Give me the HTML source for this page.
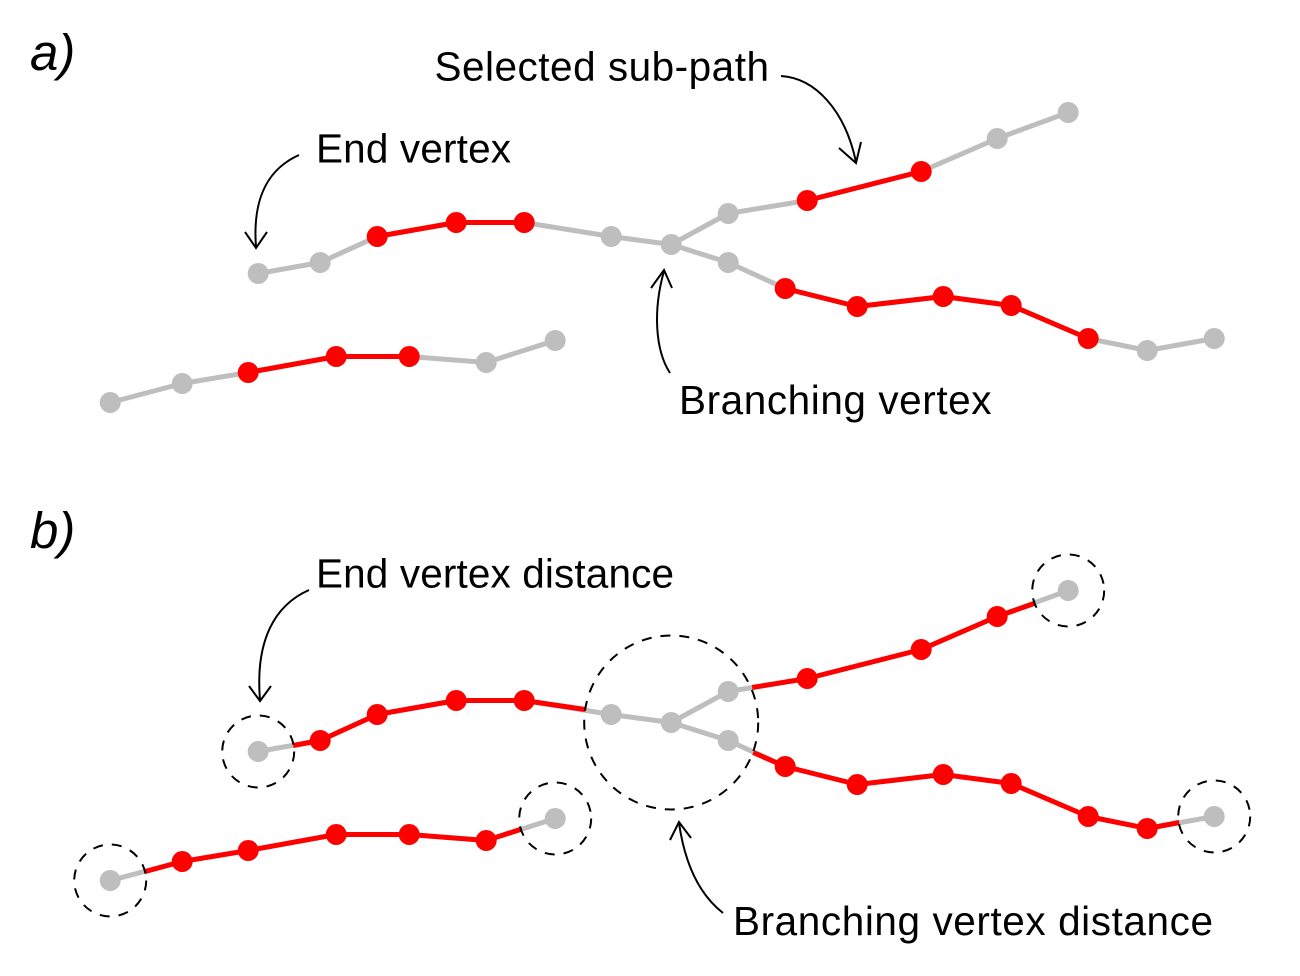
<!DOCTYPE html>
<html><head><meta charset="utf-8"><style>
html,body{margin:0;padding:0;background:#fff}
svg{display:block}
text{font-family:"Liberation Sans",sans-serif;font-size:40.5px;fill:#000}
.i{font-style:italic;font-size:51px}
.g{fill:none;stroke:#bebebe;stroke-width:5;stroke-linejoin:round}
.r{fill:none;stroke:#f00;stroke-width:5;stroke-linejoin:round}
.gd{fill:#bebebe}
.rd{fill:#f00}
.k{fill:none;stroke:#000;stroke-width:2}
.d{fill:none;stroke:#000;stroke-width:2;stroke-dasharray:10 9}
</style></head><body>
<svg width="1300" height="976" viewBox="0 0 1300 976" xmlns="http://www.w3.org/2000/svg">
<!-- panel a -->
<text x="30" y="70" class="i">a)</text>
<text x="434.5" y="80.5" textLength="334.5" lengthAdjust="spacing">Selected sub-path</text>
<text x="316" y="162.5" textLength="195" lengthAdjust="spacing">End vertex</text>
<text x="679" y="414" textLength="312.5" lengthAdjust="spacing">Branching vertex</text>

<path class="k" d="M781 76C815 78 845 110 856 162M839 148L856 163L861 142"/>
<path class="k" d="M299 155C270 168 252 195 256 247M245 232L256 248L267 232"/>
<path class="k" d="M670 373C655 350 653 310 664 271M651 288L664 270L672 288"/>

<g transform="translate(0.2 0.5)">
<polyline class="g" points="258,273 320,262 377,236 456,222 524,222 611,236 671,244 728,213 807,200 921,171 997,138 1068,112"/>
<polyline class="g" points="671,244 728,262 785,288 857,306 943,296 1011,305 1088,338 1147,350 1214,338"/>
<polyline class="g" points="110,402 182,383 248,372 336,356 409,356 486,362 555,340"/>
<polyline class="r" points="377,236 456,222 524,222"/>
<polyline class="r" points="807,200 921,171"/>
<polyline class="r" points="785,288 857,306 943,296 1011,305 1088,338"/>
<polyline class="r" points="248,372 336,356 409,356"/>
<g class="gd">
<circle cx="258" cy="273" r="10.5"/><circle cx="320" cy="262" r="10.5"/><circle cx="611" cy="236" r="10.5"/><circle cx="671" cy="244" r="10.5"/><circle cx="728" cy="213" r="10.5"/><circle cx="997" cy="138" r="10.5"/><circle cx="1068" cy="112" r="10.5"/><circle cx="728" cy="262" r="10.5"/><circle cx="1147" cy="350" r="10.5"/><circle cx="1214" cy="338" r="10.5"/><circle cx="110" cy="402" r="10.5"/><circle cx="182" cy="383" r="10.5"/><circle cx="486" cy="362" r="10.5"/><circle cx="555" cy="340" r="10.5"/>
</g>
<g class="rd">
<circle cx="377" cy="236" r="10.5"/><circle cx="456" cy="222" r="10.5"/><circle cx="524" cy="222" r="10.5"/><circle cx="807" cy="200" r="10.5"/><circle cx="921" cy="171" r="10.5"/><circle cx="785" cy="288" r="10.5"/><circle cx="857" cy="306" r="10.5"/><circle cx="943" cy="296" r="10.5"/><circle cx="1011" cy="305" r="10.5"/><circle cx="1088" cy="338" r="10.5"/><circle cx="248" cy="372" r="10.5"/><circle cx="336" cy="356" r="10.5"/><circle cx="409" cy="356" r="10.5"/>
</g>
</g>

<!-- panel b -->
<text x="30" y="548" class="i">b)</text>
<text x="316" y="587.5" textLength="358" lengthAdjust="spacing">End vertex distance</text>
<text x="733" y="935" textLength="480" lengthAdjust="spacing">Branching vertex distance</text>

<path class="k" d="M309 590C275 605 255 640 260 700M249 686L260 701L271 686"/>
<path class="k" d="M723 913C700 895 685 865 679 823M670 840L679 822L691 838"/>

<g transform="translate(0.2 0.5)">
<polyline class="g" points="258,751 320,740 377,714 456,700 524,700 611,714 671,722 728,691 807,678"/>
<polyline class="g" points="671,722 728,740 785,766"/>
<polyline class="g" points="997,616 1068,590"/>
<polyline class="g" points="1147,828 1214,816"/>
<polyline class="g" points="110,880 182,861"/>
<polyline class="g" points="486,840 555,818"/>
<polyline class="r" points="293,745 320,740 377,714 456,700 524,700 585,709"/>
<polyline class="r" points="752,687 807,678 921,649 997,616 1034,603"/>
<polyline class="r" points="753,752 785,766 857,784 943,774 1011,783 1088,816 1147,828 1179,822"/>
<polyline class="r" points="145,871 182,861 248,850 336,834 409,834 486,840 520,829"/>
<g class="gd">
<circle cx="258" cy="751" r="10.5"/><circle cx="611" cy="714" r="10.5"/><circle cx="671" cy="722" r="10.5"/><circle cx="728" cy="691" r="10.5"/><circle cx="728" cy="740" r="10.5"/><circle cx="1068" cy="590" r="10.5"/><circle cx="1214" cy="816" r="10.5"/><circle cx="110" cy="880" r="10.5"/><circle cx="555" cy="818" r="10.5"/>
</g>
<g class="rd">
<circle cx="320" cy="740" r="10.5"/><circle cx="377" cy="714" r="10.5"/><circle cx="456" cy="700" r="10.5"/><circle cx="524" cy="700" r="10.5"/><circle cx="807" cy="678" r="10.5"/><circle cx="921" cy="649" r="10.5"/><circle cx="997" cy="616" r="10.5"/><circle cx="785" cy="766" r="10.5"/><circle cx="857" cy="784" r="10.5"/><circle cx="943" cy="774" r="10.5"/><circle cx="1011" cy="783" r="10.5"/><circle cx="1088" cy="816" r="10.5"/><circle cx="1147" cy="828" r="10.5"/><circle cx="182" cy="861" r="10.5"/><circle cx="248" cy="850" r="10.5"/><circle cx="336" cy="834" r="10.5"/><circle cx="409" cy="834" r="10.5"/><circle cx="486" cy="840" r="10.5"/>
</g>
<circle class="d" cx="671" cy="722" r="87"/>
<circle class="d" cx="258" cy="751" r="36"/>
<circle class="d" cx="1068" cy="590" r="36"/>
<circle class="d" cx="1214" cy="816" r="36"/>
<circle class="d" cx="110" cy="880" r="36"/>
<circle class="d" cx="555" cy="818" r="36"/>
</g>
</svg>
</body></html>
